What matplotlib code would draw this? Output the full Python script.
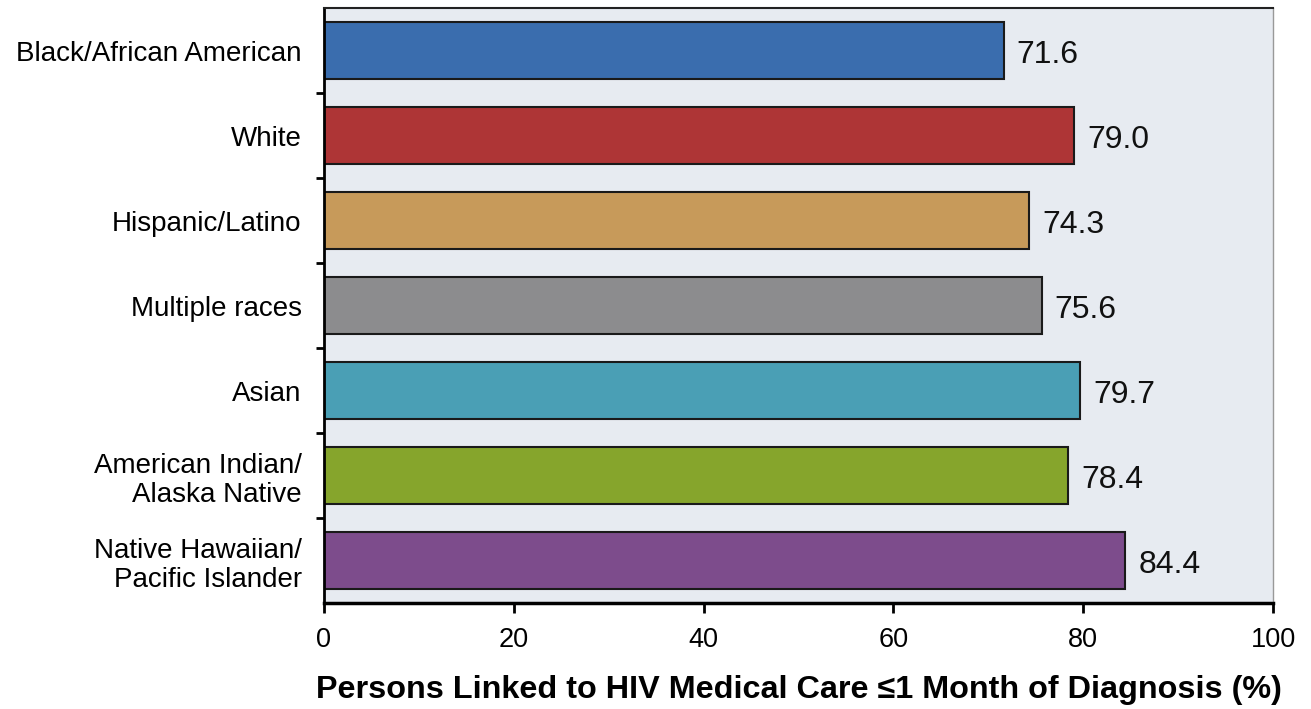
import matplotlib
matplotlib.use("Agg")
import matplotlib.pyplot as plt

categories = ["Black/African American", "White", "Hispanic/Latino", "Multiple races",
              "Asian", "American Indian/\nAlaska Native", "Native Hawaiian/\nPacific Islander"]
values = [71.6, 79.0, 74.3, 75.6, 79.7, 78.4, 84.4]
value_labels = ["71.6", "79.0", "74.3", "75.6", "79.7", "78.4", "84.4"]
colors = ["#3A6DAE", "#AE3536", "#C79A5A", "#8C8C8E", "#4A9FB5", "#86A52C", "#7D4C8C"]
xticks = [0, 20, 40, 60, 80, 100]

plt.rcParams['font.family'] = ['Liberation Sans', 'DejaVu Sans']
fig = plt.figure(figsize=(13.11, 7.09), dpi=100)
ax = fig.add_axes([0.2471, 0.1495, 0.724, 0.8392])
ax.set_facecolor("#E7EBF1")

ypos = list(range(len(categories)))
ax.barh(ypos, values, height=0.66, color=colors, edgecolor="#1a1a1a", linewidth=1.5, zorder=2)
for y, v, lab in zip(ypos, values, value_labels):
    ax.text(v + 1.4, y + 0.05, lab, va="center", ha="left", fontsize=23, color="#111111")

ax.set_ylim(len(categories) - 0.5, -0.5)
ax.set_xlim(0, 100)
ax.set_yticks(ypos)
ax.set_yticklabels(categories, fontsize=20, linespacing=1.15)
ax.set_yticks([i + 0.5 for i in range(len(categories) - 1)], minor=True)
ax.tick_params(axis="y", which="major", length=0, pad=16)
ax.tick_params(axis="y", which="minor", length=6, width=2, direction="out")
ax.set_xticks(xticks)
ax.set_xticklabels([str(t) for t in xticks], fontsize=19.5)
ax.tick_params(axis="x", length=7, width=2, direction="out", pad=10)
for lab in ax.get_yticklabels():
    lab.set_horizontalalignment("right")
    lab.set_multialignment("right")

ax.spines["left"].set_linewidth(2)
ax.spines["bottom"].set_linewidth(2.5)
ax.spines["top"].set_linewidth(1.5)
ax.spines["top"].set_color("#222222")
ax.spines["right"].set_linewidth(1)
ax.spines["right"].set_color("#999999")

ax.set_xlabel("Persons Linked to HIV Medical Care \u22641 Month of Diagnosis (%)",
              fontsize=23.3, fontweight="bold", labelpad=16)

fig.savefig("out.png", dpi=100)
